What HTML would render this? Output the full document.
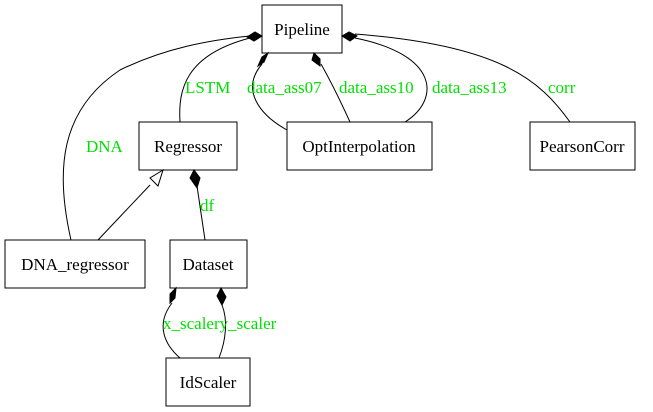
<!DOCTYPE html>
<html><head><style>body{margin:0;background:#fff}svg{display:block}text{font-family:"Liberation Serif",serif;font-size:17px}</style></head><body>
<svg width="653" height="412" xmlns="http://www.w3.org/2000/svg">
<rect width="653" height="412" fill="#fff"/>
<g fill="#fff" stroke="#000" stroke-width="1">
<rect x="262" y="5" width="80" height="48"/>
<rect x="139" y="122" width="98" height="48"/>
<rect x="287" y="122" width="145" height="48"/>
<rect x="530" y="122" width="105" height="48"/>
<rect x="5" y="240" width="140" height="48"/>
<rect x="170" y="240" width="77" height="48"/>
<rect x="166" y="358" width="84" height="48"/>
</g>
<g text-anchor="middle" fill="#000">
<text x="302" y="35">Pipeline</text>
<text x="188" y="152">Regressor</text>
<text x="359" y="152">OptInterpolation</text>
<text x="582" y="152">PearsonCorr</text>
<text x="75" y="270">DNA_regressor</text>
<text x="208" y="270">Dataset</text>
<text x="208" y="388">IdScaler</text>
</g>
<g fill="none" stroke="#000">
<path d="M71,240 C55,170 60,110 120,70 C165,48 210,40 250,36"/>
<path d="M180,122 C178,90 185,55 250,38"/>
<path d="M287,130 C260,115 240,90 262,64"/>
<path d="M350,122 C340,100 330,80 321,64"/>
<path d="M405,122 C440,100 440,55 355,38"/>
<path d="M570,122 C540,80 500,45 355,34"/>
<path d="M98,240 L150,185"/>
<path d="M205,240 L197,186"/>
<path d="M180,358 C165,345 155,325 172,303"/>
<path d="M219,358 C226,340 228,320 222,305"/>
</g>
<g fill="#000" stroke="#000">
<polygon points="262,36 255,32 247,37 254,41"/>
<polygon points="268,53 262,57 258,66 264,62"/>
<polygon points="314,53 312,60 320,66 320,59"/>
<polygon points="342,36 349,32 357,36 350,41"/>
<polygon points="194,170 190,178 197,188 200,178"/>
<polygon points="176,288 170,294 170,303 175,298"/>
<polygon points="221,288 217,296 222,305 226,297"/>
</g>
<polygon points="163,170 150,178 158,186" fill="#fff" stroke="#000"/>
<g fill="#00e000">
<text x="185" y="93">LSTM</text>
<text x="247" y="93">data_ass07</text>
<text x="339" y="93">data_ass10</text>
<text x="432" y="93">data_ass13</text>
<text x="548" y="93">corr</text>
<text x="86" y="152">DNA</text>
<text x="200" y="211">df</text>
<text x="163" y="329">x_scalery_scaler</text>
</g>
</svg>
</body></html>
